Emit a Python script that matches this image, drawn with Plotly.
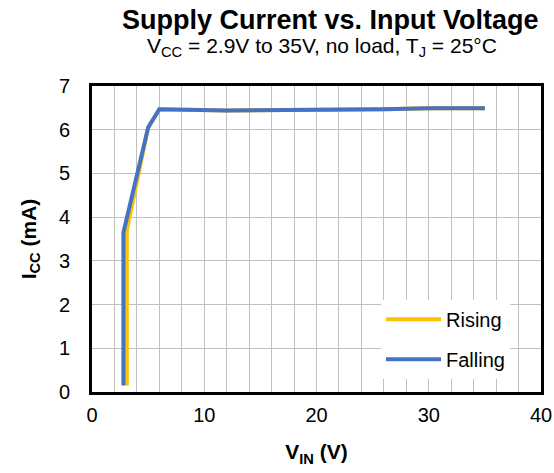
import plotly.graph_objects as go

# rising / falling supply sweeps (V_IN in volts, I_CC in mA)
rising_vin = [3.1, 3.1, 5.0, 6.0, 12, 20, 26, 30, 35]
rising_icc = [0.15, 3.7, 6.05, 6.47, 6.44, 6.45, 6.47, 6.49, 6.49]

falling_vin = [2.8, 2.8, 5.0, 6.0, 12, 20, 26, 30, 35]
falling_icc = [0.15, 3.65, 6.05, 6.47, 6.44, 6.45, 6.47, 6.49, 6.49]

x_ticks = [0, 10, 20, 30, 40]
y_ticks = [0, 1, 2, 3, 4, 5, 6, 7]

FONT = "Liberation Sans, Arial, sans-serif"

fig = go.Figure()
fig.add_trace(go.Scatter(x=rising_vin, y=rising_icc, mode="lines", name="Rising", legendgroup="r",
                         line=dict(color="#FFC000", width=4)))
fig.add_trace(go.Scatter(x=falling_vin, y=falling_icc, mode="lines", name="Falling", legendgroup="f",
                         line=dict(color="#4472C4", width=4)))

fig.update_layout(
    width=554, height=473,
    margin=dict(l=92, r=13, t=86, b=81),
    plot_bgcolor="white", paper_bgcolor="white",
    font=dict(family=FONT, size=20, color="black"),
    showlegend=True,
    legend=dict(x=0.931, y=0.043, xanchor="right", yanchor="bottom",
                bgcolor="white", borderwidth=0, itemwidth=55,
                font=dict(size=20), traceorder="grouped", tracegroupgap=11),
    xaxis=dict(range=[0, 40], tickvals=x_ticks, showgrid=True, gridcolor="#c0c0c0", gridwidth=1,
               minor=dict(dtick=2, showgrid=True, gridcolor="#c0c0c0", gridwidth=1),
               showline=True, linecolor="black", linewidth=3, mirror=True, automargin=False,
               ticks="", zeroline=False, ticklabelstandoff=3,
               title=dict(text="<b>V<sub>IN</sub> (V)</b>", font=dict(size=21), standoff=20)),
    yaxis=dict(range=[0, 7], tickvals=y_ticks, showgrid=True, gridcolor="#c0c0c0", gridwidth=1,
               showline=True, linecolor="black", linewidth=3, mirror=True, automargin=False,
               ticks="", zeroline=False, ticklabelstandoff=15,
               title=dict(text="<b>I<sub>CC</sub> (mA)</b>", font=dict(size=21), standoff=17)),
)

fig.add_annotation(text="<b>Supply Current vs. Input Voltage</b>", xref="paper", yref="paper",
                   x=0.531, y=1.0, yshift=66, showarrow=False, font=dict(size=27),
                   xanchor="center", yanchor="middle")
fig.add_annotation(text="V<sub>CC</sub> = 2.9V to 35V, no load, T<sub>J</sub> = 25°C",
                   xref="paper", yref="paper", x=0.513, y=1.0, yshift=39, showarrow=False,
                   font=dict(size=21), xanchor="center", yanchor="middle")

fig.write_html("out.html", config={"displayModeBar": False},
               post_script="document.body.style.margin='0';")
